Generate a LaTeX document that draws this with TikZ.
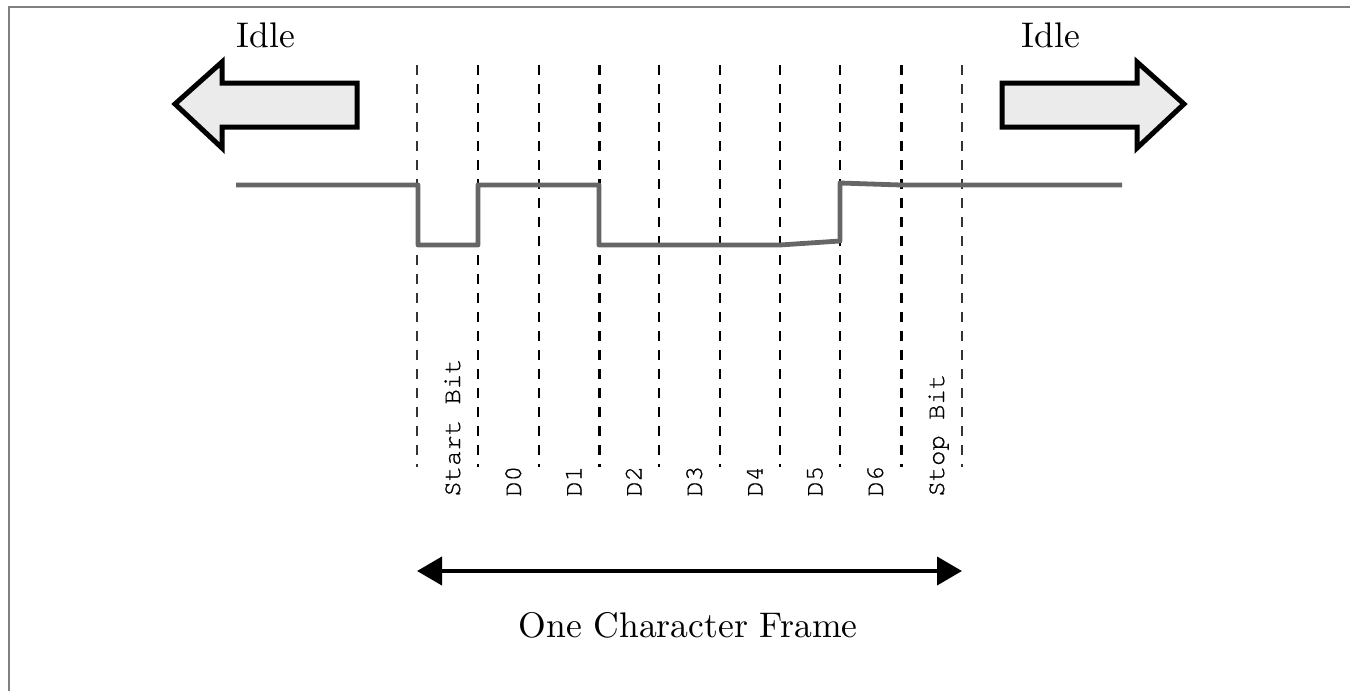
\documentclass[tikz,border=0pt]{standalone}
\usepackage{fontspec}
\newfontfamily\monolabel{TeX Gyre Cursor}[UprightFeatures={FakeBold=0.6}]
\usetikzlibrary{arrows.meta}
\tikzset{
  frameedge/.style={draw=black!50, line width=1pt},
  signal/.style={draw=black!60, line width=2.4pt, line join=round},
  bitline/.style={draw=black, line width=1pt, dash pattern=on 5pt off 4.5pt},
  idlearrow/.style={draw=black, fill=black!8, line width=2.5pt, line join=miter},
  idletext/.style={inner sep=0pt, anchor=base},
  bitlabel/.style={font=\monolabel\fontsize{12.8}{14}\selectfont, rotate=90, anchor=base west, inner sep=0pt},
  framespan/.style={line width=2pt, {Triangle[length=12.5pt,width=14pt]}-{Triangle[length=12.5pt,width=14pt]}},
  spantext/.style={inner sep=0pt, anchor=base},
}
\newcommand\bigroman[1]{\scalebox{1.78}{\fontsize{10}{12}\selectfont #1}}
\begin{document}
\begin{tikzpicture}[x=0.5pt,y=-0.5pt]
  \useasboundingbox (0,0) rectangle (1350,691);

  % outer frame (left and top edges)
  \draw[frameedge] (8.5,691) -- (8.5,6.5) -- (1350,6.5);

  % idle arrows
  \draw[idlearrow] (175,104) -- (222,62) -- (222,83) -- (357,83) -- (357,127) -- (222,127) -- (222,148) -- cycle;
  \draw[idlearrow] (1184,104) -- (1137,62) -- (1137,83) -- (1002,83) -- (1002,127) -- (1137,127) -- (1137,148) -- cycle;
  \node[idletext] (idleL) at (266,47) {\bigroman{Idle}};
  \node[idletext] (idleR) at (1051,47) {\bigroman{Idle}};

  % bit boundaries
  \foreach \i/\x/\c/\w in {0/417/black!80/1pt, 1/478/black/1pt, 2/539/black/1pt, 3/599/black/1.5pt, 4/659/black/1pt,
                           5/720/black/1pt, 6/780/black/1pt, 7/840/black/1pt, 8/901/black/1.5pt, 9/962/black!80/1pt} {
    \coordinate (t\i) at (\x,65);
    \coordinate (u\i) at (\x,467);
    \draw[bitline, draw=\c, line width=\w] (t\i) -- (u\i);
  }

  % waveform
  \draw[signal] (236,185) -- (418,185) -- (418,245) -- (478,245) -- (478,185) -- (599,185)
    -- (599,245) -- (780,245) -- (840,241) -- (840,183) -- (901,185) -- (1122,185);

  % bit labels
  \node[bitlabel] (lStart) at (460,497) {Start Bit};
  \node[bitlabel] (lD0) at (521,497) {D0};
  \node[bitlabel] (lD1) at (581.5,497) {D1};
  \node[bitlabel] (lD2) at (641.5,497) {D2};
  \node[bitlabel] (lD3) at (702,497) {D3};
  \node[bitlabel] (lD4) at (762.5,497) {D4};
  \node[bitlabel] (lD5) at (822.5,497) {D5};
  \node[bitlabel] (lD6) at (883,497) {D6};
  \node[bitlabel] (lStop) at (944,497) {Stop Bit};

  % frame span
  \coordinate (spanL) at (417,571);
  \coordinate (spanR) at (962,571);
  \draw[framespan] (spanL) -- (spanR);
  \node[spantext] (frameText) at (688,637) {\bigroman{One Character Frame}};
\end{tikzpicture}
\end{document}
